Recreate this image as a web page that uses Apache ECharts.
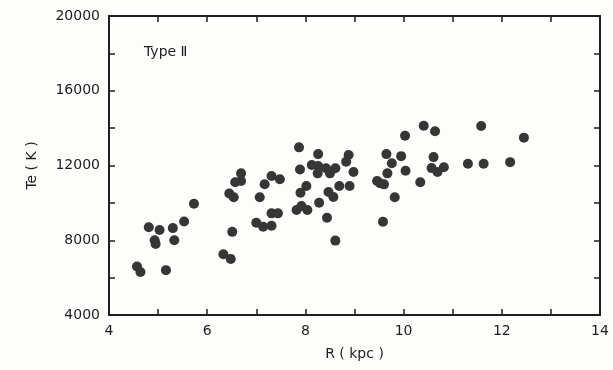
<!DOCTYPE html>
<html>
<head>
<meta charset="utf-8">
<script src="https://cdn.jsdelivr.net/npm/echarts@6/dist/echarts.min.js"></script>
<style>
  html, body { margin: 0; padding: 0; background: #fdfdfb; }
  #chart { width: 613px; height: 370px; }
</style>
</head>
<body>
<div id="chart"></div>
<script>
// Galactocentric distance R (kpc) and electron temperature Te (K), Type II
const radius = [
  4.57, 4.64, 4.81, 5.03, 5.30, 5.53, 5.73, 4.93, 4.95, 5.33, 5.16,
  6.33, 6.48, 6.51, 6.45, 6.54, 6.57, 6.69, 6.69,
  7.07, 7.17, 7.31, 7.48, 7.31, 7.44, 7.00, 7.14, 7.31,
  7.87, 8.26, 8.88, 8.83, 7.89, 8.13, 8.26, 8.25, 8.42, 8.61, 8.50, 8.98,
  8.02, 7.90, 8.69, 8.90, 8.47, 8.57, 8.28, 7.82, 7.92, 8.04, 8.44, 8.61,
  9.65, 9.95, 9.76, 10.04, 9.67, 9.46, 9.60, 10.34, 9.82, 9.58, 9.52,
  10.03, 10.41, 10.64, 11.58, 12.45, 10.61, 10.57, 10.69, 10.82,
  11.31, 11.63, 12.17
];
const temperature = [
  6600, 6300, 8700, 8550, 8650, 9000, 9950, 8000, 7800, 8000, 6400,
  7250, 7000, 8450, 10500, 10300, 11100, 11170, 11580,
  10300, 11000, 11440, 11260, 9440, 9440, 8940, 8720, 8780,
  12970, 12610, 12560, 12200, 11790, 12030, 11970, 11580, 11850, 11850, 11580, 11650,
  10900, 10540, 10900, 10900, 10580, 10310, 10010, 9620, 9830, 9620, 9200, 7980,
  12610, 12500, 12120, 11720, 11580, 11170, 10990, 11100, 10300, 8990, 11050,
  13590, 14130, 13830, 14110, 13490, 12450, 11860, 11650, 11910,
  12090, 12090, 12180
];
const xTicks = [4, 6, 8, 10, 12, 14];
const yTicks = [4000, 8000, 12000, 16000, 20000];

const points = radius.map((r, i) => [r, temperature[i]]);
const ink = '#1e1e1e';
const font = 'DejaVu Sans';

const chart = echarts.init(document.getElementById('chart'));

const frameX = (pos, labels) => ({
  type: 'value', position: pos, min: 4, max: 14, interval: 1,
  axisLine: { show: true, onZero: false, lineStyle: { color: ink, width: 2 } },
  axisTick: { show: true, inside: true, length: 6, lineStyle: { color: ink, width: 1.5 } },
  axisLabel: labels ? {
    show: true, margin: 9, color: ink, fontFamily: font, fontSize: 14,
    formatter: v => (xTicks.includes(v) ? String(v) : '')
  } : { show: false },
  splitLine: { show: false }
});

const frameY = (pos, labels) => ({
  type: 'value', position: pos, min: 4000, max: 20000, interval: 2000,
  axisLine: { show: true, onZero: false, lineStyle: { color: ink, width: 2 } },
  axisTick: { show: true, inside: true, length: 6, lineStyle: { color: ink, width: 1.5 } },
  axisLabel: labels ? {
    show: true, margin: 9, color: ink, fontFamily: font, fontSize: 14,
    formatter: v => (yTicks.includes(v) ? String(v) : '')
  } : { show: false },
  splitLine: { show: false }
});

const option = {
  backgroundColor: '#fdfdfb',
  animation: false,
  grid: { left: 109, right: 13, top: 16, bottom: 55 },
  title: {
    text: 'Type Ⅱ', left: 139, top: 40,
    textStyle: { color: ink, fontFamily: font, fontSize: 14, fontWeight: 'normal' }
  },
  xAxis: [
    Object.assign(frameX('bottom', true), {
      name: 'R ( kpc )', nameLocation: 'middle', nameGap: 32,
      nameTextStyle: { color: ink, fontFamily: font, fontSize: 14 }
    }),
    frameX('top', false)
  ],
  yAxis: [
    Object.assign(frameY('left', true), {
      name: 'Te ( K )', nameLocation: 'middle', nameGap: 70,
      nameTextStyle: { color: ink, fontFamily: font, fontSize: 14 }
    }),
    frameY('right', false)
  ],
  series: [{
    type: 'scatter',
    xAxisIndex: 0,
    yAxisIndex: 0,
    data: points,
    symbolSize: 10,
    itemStyle: { color: '#363636', opacity: 1 }
  }]
};

chart.setOption(option);
</script>
</body>
</html>
